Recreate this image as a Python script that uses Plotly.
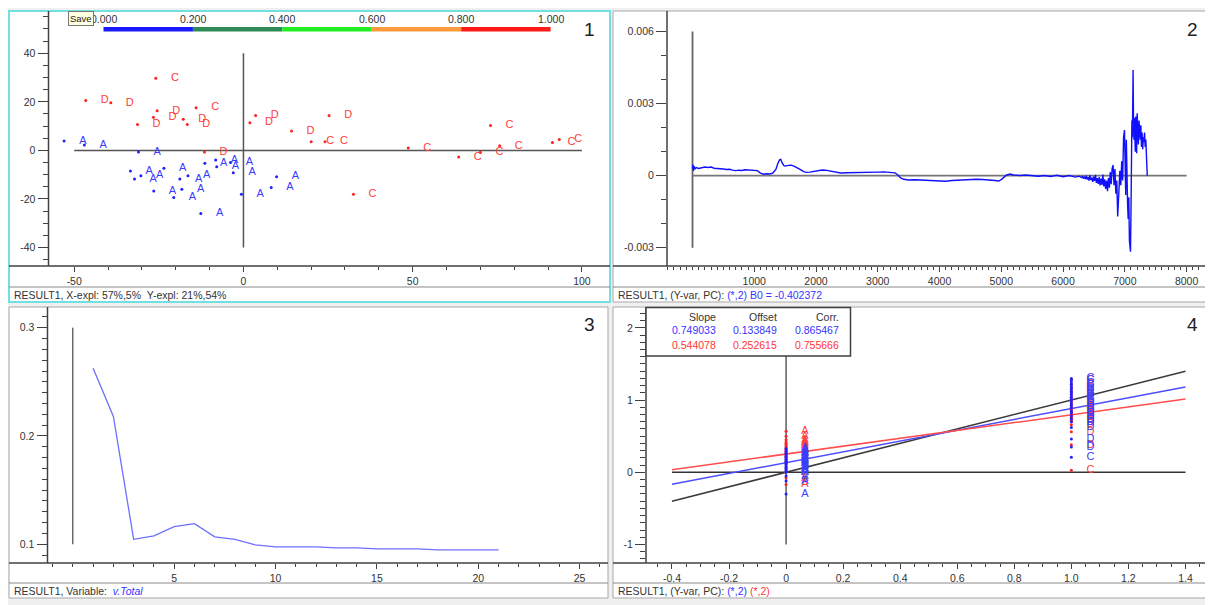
import plotly.graph_objects as go

# page body has an 8px margin: the figure is placed at (8, 8) on the page
OFF = 8
W, H = 1213 - OFF, 605 - OFF

# ---------------- data ----------------
# Panel 1: scores (PC1 vs PC2)
scoreA_x = [-53.0, -47.0, -31.0, -33.4, -32.2, -30.3, -23.5, -26.5, -20.6, -18.2, -18.8,
            -16.4, -11.4, -8.2, -7.9, -3.8, -3.0, -12.6, -0.6, 8.2, 9.8]
scoreA_y = [3.9, 2.2, -0.7, -8.5, -11.8, -10.4, -7.4, -16.7, -19.4, -16.0, -11.8,
            -10.4, -5.3, -4.0, -6.7, -5.0, -9.2, -26.0, -18.1, -15.3, -10.8]
scoreCD_x = [-25.9, -46.6, -39.2, -25.5, -31.3, -26.6, -14.0, -17.8, -16.6, -11.5, 3.6, 1.9,
             14.2, 20.0, 24.1, 25.3, 32.5, 48.7, 63.6, 70.0, 73.0, 75.7, 91.3, 93.3]
scoreCD_y = [29.7, 20.5, 19.6, 16.3, 10.7, 13.6, 17.6, 12.8, 10.7, -0.7, 14.4, 11.4,
             8.0, 3.6, 3.6, 14.4, -18.1, 1.0, -2.7, -0.8, 10.3, 1.9, 3.3, 4.5]
labels_A = ["A"] * len(scoreA_x)
labels_CD = list("CDDDDDCDDDDDDCCDCCCCCCCC")
class_value = {"A": 0.0, "C": 1.0, "D": 1.0}

colorbar_ticks = [0.0, 0.2, 0.4, 0.6, 0.8, 1.0]
colorbar_labels = ["0.000", "0.200", "0.400", "0.600", "0.800", "1.000"]
colorbar_colors = ["#1a1aff", "#2e8b57", "#22ee22", "#ff9a3c", "#ff1a1a"]

# Panel 2: regression coefficients (B-vector), smooth part
coef_x_smooth = [0, 8, 15, 25, 40, 60, 100, 150, 200, 250, 300, 350, 400, 450, 500, 550, 600,
                 650, 700, 750, 800, 850, 900, 950, 1000, 1050, 1100, 1150, 1200, 1250, 1300,
                 1350, 1380, 1410, 1430, 1450, 1480, 1500, 1550, 1600, 1650, 1700, 1750, 1800,
                 1850, 1900, 1950, 2000, 2050, 2100, 2150, 2200, 2250, 2300, 2350, 2400, 2500,
                 2600, 2700, 2800, 2900, 3000, 3100, 3200, 3280, 3330, 3370, 3420, 3500, 3600,
                 3700, 3800, 3900, 4000, 4100, 4200, 4300, 4400, 4500, 4600, 4700, 4800, 4900,
                 4960, 5020, 5080, 5140, 5200, 5300, 5400, 5500, 5600, 5700, 5800, 5900, 6000,
                 6100, 6200, 6260]
coef_y_smooth = [0.00030, 0.00046, 0.00020, 0.00040, 0.00028, 0.00034, 0.00030, 0.00033,
                 0.00036, 0.00034, 0.00036, 0.00031, 0.00030, 0.00032, 0.00028, 0.00026,
                 0.00027, 0.00023, 0.00021, 0.00023, 0.00022, 0.00025, 0.00024, 0.00022,
                 0.00023, 0.00021, 0.00011, 0.00006, 0.00008, 0.00007, 0.00011, 0.00026,
                 0.00050, 0.00066, 0.00068, 0.00054, 0.00042, 0.00040, 0.00043, 0.00044,
                 0.00039, 0.00033, 0.00025, 0.00017, 0.00014, 0.00015, 0.00018, 0.00020,
                 0.00023, 0.00024, 0.00023, 0.00021, 0.00019, 0.00017, 0.00013, 0.00011,
                 0.00012, 0.00012, 0.00013, 0.00014, 0.00015, 0.00015, 0.00016, 0.00015,
                 0.00012, 0.00002, -0.00009, -0.00015, -0.00018, -0.00017, -0.00018, -0.00020,
                 -0.00021, -0.00022, -0.00023, -0.00020, -0.00018, -0.00017, -0.00016,
                 -0.00015, -0.00016, -0.00017, -0.00020, -0.00022, -0.00012, 0.00002, 0.00007,
                 0.00003, 0.00001, 0.00003, 0.00000, -0.00002, 0.00001, -0.00003, 0.00002,
                 -0.00004, 0.00001, -0.00006, -0.00002]
# noisy high-wavenumber part
coef_x_noisy = [6300, 6315, 6330, 6345, 6360, 6375, 6390, 6405, 6420, 6435, 6450, 6465, 6480,
                6495, 6510, 6525, 6540, 6555, 6570, 6585, 6600, 6615, 6630, 6645, 6660, 6675,
                6690, 6705, 6720, 6735, 6750, 6765, 6780, 6795, 6810, 6825, 6840, 6855, 6870,
                6885, 6900, 6920, 6935, 6950, 6965, 6980, 6995, 7005, 7015, 7025, 7035, 7045,
                7055, 7065, 7075, 7085, 7092, 7100, 7108, 7115, 7122, 7128, 7134, 7140, 7148,
                7155, 7162, 7170, 7178, 7185, 7192, 7200, 7210, 7220, 7230, 7240, 7250, 7260,
                7270, 7280, 7290, 7300, 7310, 7320, 7330, 7340, 7350, 7364]
coef_y_noisy = [-0.00008, -0.00002, -0.00012, -0.00004, -0.00014, 0.00000, -0.00016, -0.00006,
                -0.00020, 0.00002, -0.00018, -0.00008, -0.00026, -0.00004, -0.00022, 0.00004,
                -0.00030, -0.00010, -0.00034, -0.00006, -0.00040, -0.00012, -0.00038, 0.00005,
                -0.00045, -0.00015, -0.00055, -0.00020, -0.00064, -0.00010, -0.00050, 0.00015,
                -0.00035, 0.00030, 0.00044, -0.00040, 0.00028, -0.00075, -0.00020, -0.00170,
                -0.00095, 0.00020, -0.00040, 0.00060, -0.00020, 0.00160, 0.00190, 0.00060,
                -0.00080, 0.00150, -0.00040, -0.00120, -0.00180, -0.00090, -0.00270, -0.00310,
                -0.00316, -0.00150, 0.00100, 0.00230, 0.00160, 0.00273, 0.00440, 0.00260,
                0.00150, 0.00240, 0.00176, 0.00100, 0.00246, 0.00200, 0.00093, 0.00260,
                0.00180, 0.00130, 0.00230, 0.00190, 0.00150, 0.00210, 0.00120, 0.00180,
                0.00110, 0.00160, 0.00140, 0.00180, 0.00120, 0.00150, 0.00080, 0.00000]

# Panel 3: residual validation variance vs PCs
pcs = list(range(1, 22))
v_total = [0.2625, 0.2180, 0.1046, 0.1077, 0.1163, 0.1190, 0.1068, 0.1046, 0.0994, 0.0975,
           0.0975, 0.0975, 0.0966, 0.0966, 0.0957, 0.0957, 0.0957, 0.0948, 0.0948, 0.0948, 0.0948]

# Panel 4: predicted vs measured
pred_cal_A = [0.33, 0.30, 0.28, 0.26, 0.24, 0.22, 0.20, 0.18, 0.17, 0.15, 0.14,
              0.12, 0.10, 0.08, 0.06, 0.04, 0.02, 0.00, -0.05, -0.12, -0.30]
pred_val_A = [0.57, 0.50, 0.45, 0.42, 0.40, 0.38, 0.36, 0.34, 0.32, 0.30, 0.28,
              0.26, 0.24, 0.22, 0.20, 0.16, 0.12, 0.06, 0.00, -0.08, -0.17]
pred_cal_CD = [0.21, 0.46, 0.62, 0.70, 0.74, 0.78, 0.82, 0.85, 0.35, 0.89, 0.92, 0.95,
               0.98, 1.01, 1.04, 1.07, 1.10, 1.12, 1.15, 1.18, 1.21, 1.24, 1.27, 1.30]
pred_val_CD = [0.03, 0.56, 0.38, 0.66, 0.70, 0.72, 0.74, 0.76, 0.78, 0.80, 0.82, 0.84,
               0.86, 0.88, 0.90, 0.93, 0.96, 1.00, 1.04, 1.08, 1.12, 1.17, 1.22, 1.28]
fit_names = ["Slope", "Offset", "Corr."]
fit_cal = [0.749033, 0.133849, 0.865467]
fit_val = [0.544078, 0.252615, 0.755666]
line_x = [-0.4, 1.4]

# ---------------- style / geometry ----------------
FONT = "Liberation Sans, Arial, sans-serif"
TXT = "#333333"
AX = "#404040"
BLUE_T = "#3c3cff"
RED_T = "#ff3b3b"
NB = "\u00a0" * 4

# page-pixel geometry of the four panels
panels = {
    1: dict(L=9, T=11, R=610, B=302, ax=48.5, ay=266, sep=287, border="#72e0e0", bw=2),
    2: dict(L=613, T=11, R=1212, B=302, ax=667, ay=266, sep=287, border="#a8a8a8", bw=1),
    3: dict(L=9, T=307, R=608, B=598, ax=47.5, ay=563, sep=583, border="#a8a8a8", bw=1),
    4: dict(L=613, T=307, R=1212, B=598, ax=646, ay=563, sep=583, border="#a8a8a8", bw=1),
}
ranges = {
    1: ([-57.6, 108.3], [-47.6, 57.4]),
    2: ([-413, 8412], [-0.003757, 0.006853]),
    3: ([-1.25, 26.4], [0.0827, 0.3191]),
    4: ([-0.491, 1.493], [-1.256, 2.289]),
}


def px(x):
    return (x - OFF) / W


def py(y):
    return 1 - (y - OFF) / H


fig = go.Figure()

# ---- panel 1 scatter
fig.add_trace(go.Scatter(x=scoreA_x, y=scoreA_y, mode="markers+text",
                         text=[NB + t for t in labels_A], textposition="middle right",
                         textfont=dict(size=11, color=BLUE_T, family=FONT),
                         marker=dict(size=3, color="#2020ff"), xaxis="x", yaxis="y",
                         showlegend=False, hoverinfo="skip"))
fig.add_trace(go.Scatter(x=scoreCD_x, y=scoreCD_y, mode="markers+text",
                         text=[NB + t for t in labels_CD], textposition="middle right",
                         textfont=dict(size=11, color=RED_T, family=FONT),
                         marker=dict(size=3, color="#ff2020"), xaxis="x", yaxis="y",
                         showlegend=False, hoverinfo="skip"))

# ---- panel 2 line
fig.add_trace(go.Scatter(x=coef_x_smooth + coef_x_noisy, y=coef_y_smooth + coef_y_noisy,
                         mode="lines", line=dict(color="#1010ff", width=1.4),
                         xaxis="x2", yaxis="y2", showlegend=False, hoverinfo="skip"))

# ---- panel 3 line
fig.add_trace(go.Scatter(x=pcs, y=v_total, mode="lines",
                         line=dict(color="#6e6eff", width=1.3), xaxis="x3", yaxis="y3",
                         showlegend=False, hoverinfo="skip"))

# ---- panel 4
fig.add_trace(go.Scatter(x=line_x, y=line_x, mode="lines", line=dict(color="#3a3a3a", width=1.5),
                         xaxis="x4", yaxis="y4", showlegend=False, hoverinfo="skip"))
fig.add_trace(go.Scatter(x=line_x, y=[fit_cal[0] * v + fit_cal[1] for v in line_x], mode="lines",
                         line=dict(color="#4d4dff", width=1.5), xaxis="x4", yaxis="y4",
                         showlegend=False, hoverinfo="skip"))
fig.add_trace(go.Scatter(x=line_x, y=[fit_val[0] * v + fit_val[1] for v in line_x], mode="lines",
                         line=dict(color="#ff4d4d", width=1.5), xaxis="x4", yaxis="y4",
                         showlegend=False, hoverinfo="skip"))

meas_A = [class_value[c] for c in labels_A]
meas_CD = [class_value[c] for c in labels_CD]
for meas, preds, labs, mcol, tcol in [
    (meas_A, pred_val_A, labels_A, "#ff2020", RED_T),
    (meas_CD, pred_val_CD, labels_CD, "#ff2020", RED_T),
    (meas_A, pred_cal_A, labels_A, "#2020ff", BLUE_T),
    (meas_CD, pred_cal_CD, labels_CD, "#2020ff", BLUE_T),
]:
    fig.add_trace(go.Scatter(x=meas, y=preds, mode="markers+text",
                             text=[NB + t for t in labs], textposition="middle right",
                             textfont=dict(size=11, color=tcol, family=FONT),
                             marker=dict(size=3, color=mcol), xaxis="x4", yaxis="y4",
                             showlegend=False, hoverinfo="skip"))

# ---------------- axes ----------------
axis_specs = {
    1: dict(xt=[-50, 0, 50, 100], xl=["-50", "0", "50", "100"], xm=(-50, 10),
            yt=[-40, -20, 0, 20, 40], yl=["-40", "-20", "0", "20", "40"], ym=(-40, 5)),
    2: dict(xt=[1000, 2000, 3000, 4000, 5000, 6000, 7000, 8000],
            xl=["1000", "2000", "3000", "4000", "5000", "6000", "7000", "8000"], xm=(0, 100),
            yt=[-0.003, 0, 0.003, 0.006], yl=["-0.003", "0", "0.003", "0.006"], ym=(-0.003, 0.001)),
    3: dict(xt=[5, 10, 15, 20, 25], xl=["5", "10", "15", "20", "25"], xm=(0, 1),
            yt=[0.1, 0.2, 0.3], yl=["0.1", "0.2", "0.3"], ym=(0.1, 0.01)),
    4: dict(xt=[-0.4, -0.2, 0, 0.2, 0.4, 0.6, 0.8, 1.0, 1.2, 1.4],
            xl=["-0.4", "-0.2", "0", "0.2", "0.4", "0.6", "0.8", "1.0", "1.2", "1.4"], xm=(-0.4, 0.05),
            yt=[-1, 0, 1, 2], yl=["-1", "0", "1", "2"], ym=(-1, 0.1)),
}

layout = dict(width=W, height=H, margin=dict(l=0, r=0, t=0, b=0),
              paper_bgcolor="#f0f0f0", plot_bgcolor="rgba(0,0,0,0)",
              font=dict(family=FONT, size=10, color=TXT), showlegend=False)

for i in range(1, 5):
    p = panels[i]
    s = axis_specs[i]
    xr, yr = ranges[i]
    xn = "xaxis" if i == 1 else f"xaxis{i}"
    yn = "yaxis" if i == 1 else f"yaxis{i}"
    anchor_x = "y" if i == 1 else f"y{i}"
    anchor_y = "x" if i == 1 else f"x{i}"
    layout[xn] = dict(domain=[px(p["ax"]), px(p["R"])], range=xr, anchor=anchor_x,
                      showgrid=False, zeroline=False, showline=False,
                      tickmode="array", tickvals=s["xt"], ticktext=s["xl"],
                      ticks="outside", ticklen=5, tickcolor=AX, tickwidth=1,
                      tickfont=dict(size=10.5, color=TXT, family=FONT),
                      minor=dict(ticks="outside", ticklen=3, tickcolor=AX, tickwidth=1,
                                 tick0=s["xm"][0], dtick=s["xm"][1], showgrid=False),
                      fixedrange=True)
    layout[yn] = dict(domain=[py(p["ay"]), py(p["T"])], range=yr, anchor=anchor_y,
                      showgrid=False, zeroline=False, showline=False,
                      tickmode="array", tickvals=s["yt"], ticktext=s["yl"],
                      ticks="outside", ticklen=10, tickcolor=AX, tickwidth=1,
                      tickfont=dict(size=10.5, color=TXT, family=FONT),
                      minor=dict(ticks="outside", ticklen=5, tickcolor=AX, tickwidth=1,
                                 tick0=s["ym"][0], dtick=s["ym"][1], showgrid=False),
                      fixedrange=True)

shapes = []
annotations = []

# panel frames (white backgrounds)
for i in range(1, 5):
    p = panels[i]
    shapes.append(dict(type="rect", xref="paper", yref="paper", layer="below",
                       x0=px(p["L"]), x1=px(p["R"]), y0=py(p["B"]), y1=py(p["T"]),
                       fillcolor="white", line=dict(color=p["border"], width=p["bw"])))

# zero / reference lines in data coordinates
ref_lines = [
    ("x", "y", [0, 0], [-40, 40], "#555555", 1.5),
    ("x", "y", [-50, 100], [0, 0], "#555555", 1.5),
    ("x2", "y2", [0, 0], [-0.003, 0.006], "#666666", 1.8),
    ("x2", "y2", [0, 8000], [0, 0], "#777777", 1.8),
    ("x3", "y3", [0, 0], [0.1, 0.3], "#222222", 1),
    ("x4", "y4", [0, 0], [-1, 2], "#333333", 1.2),
    ("x4", "y4", [-0.4, 1.4], [0, 0], "#333333", 1.5),
]
for xr_, yr_, xs, ys, col, wd in ref_lines:
    shapes.append(dict(type="line", xref=xr_, yref=yr_, layer="below",
                       x0=xs[0], x1=xs[1], y0=ys[0], y1=ys[1], line=dict(color=col, width=wd)))

# axis lines, separators
for i in range(1, 5):
    p = panels[i]
    shapes.append(dict(type="line", xref="paper", yref="paper", layer="above",
                       x0=px(p["ax"]), x1=px(p["ax"]), y0=py(p["ay"]), y1=py(p["T"]),
                       line=dict(color=AX, width=1.5)))
    shapes.append(dict(type="line", xref="paper", yref="paper", layer="above",
                       x0=px(p["L"]), x1=px(p["R"]), y0=py(p["ay"]), y1=py(p["ay"]),
                       line=dict(color=AX, width=1.5)))
    shapes.append(dict(type="line", xref="paper", yref="paper", layer="above",
                       x0=px(p["L"]), x1=px(p["R"]), y0=py(p["sep"]), y1=py(p["sep"]),
                       line=dict(color="#8a8a8a", width=1)))

# panel 4 statistics table box
shapes.append(dict(type="rect", xref="paper", yref="paper", layer="above",
                   x0=px(646), x1=px(850.5), y0=py(356), y1=py(307.5),
                   fillcolor="white", line=dict(color=AX, width=1.5)))
col_right = [717.5, 779.5, 840.5]
for j in range(3):
    for txt, yy, colr in [(fit_names[j], 316.5, TXT),
                          (f"{fit_cal[j]:.6f}", 330.5, "#3535ff"),
                          (f"{fit_val[j]:.6f}", 344.5, "#ff3535")]:
        annotations.append(dict(xref="paper", yref="paper", x=px(col_right[j]), y=py(yy),
                                text=txt, showarrow=False, xanchor="right", yanchor="middle",
                                font=dict(size=10.5, color=colr, family=FONT)))

# colour scale bar on panel 1
cb_x0, cb_w = 103.5, 447.1
for k in range(len(colorbar_colors)):
    shapes.append(dict(type="rect", xref="paper", yref="paper", layer="above",
                       x0=px(cb_x0 + colorbar_ticks[k] * cb_w), x1=px(cb_x0 + colorbar_ticks[k + 1] * cb_w),
                       y0=py(31.5), y1=py(27), fillcolor=colorbar_colors[k], line=dict(width=0)))
for v, lab in zip(colorbar_ticks, colorbar_labels):
    annotations.append(dict(xref="paper", yref="paper", x=px(cb_x0 + v * cb_w), y=py(19.5),
                            text=lab, showarrow=False, xanchor="center", yanchor="middle",
                            font=dict(size=10.5, color=TXT, family=FONT)))
# tooltip
annotations.append(dict(xref="paper", yref="paper", x=px(68), y=py(11), text="Save",
                        showarrow=False, xanchor="left", yanchor="top", bgcolor="#ffffe1",
                        bordercolor="#767676", borderwidth=1, borderpad=1,
                        font=dict(size=9.5, color="#222222", family=FONT)))

# panel numbers
for i, (xx, yy) in zip(range(1, 5), [(597, 30), (1200, 30), (597, 324), (1200, 324)]):
    annotations.append(dict(xref="paper", yref="paper", x=px(xx), y=py(yy), text=str(i),
                            showarrow=False, xanchor="right", yanchor="middle",
                            font=dict(size=19, color="#222222", family=FONT)))

status = {
    1: "RESULT1, X-expl: 57%,5%\u00a0\u00a0Y-expl: 21%,54%",
    2: "RESULT1, (Y-var, PC): <span style='color:#3535ff'>(*,2) B0 = -0.402372</span>",
    3: "RESULT1, Variable:\u00a0\u00a0<span style='color:#3535ff'><i>v.Total</i></span>",
    4: "RESULT1, (Y-var, PC): <span style='color:#3535ff'>(*,2)</span> <span style='color:#ff3535'>(*,2)</span>",
}
for i in range(1, 5):
    p = panels[i]
    annotations.append(dict(xref="paper", yref="paper", x=px(p["L"] + 3), y=py((p["sep"] + p["B"]) / 2 + 0.5),
                            text=status[i], showarrow=False, xanchor="left", yanchor="middle",
                            font=dict(size=10.5, color=TXT, family=FONT)))

layout["shapes"] = shapes
layout["annotations"] = annotations
fig.update_layout(**layout)
fig.write_html("out.html")
